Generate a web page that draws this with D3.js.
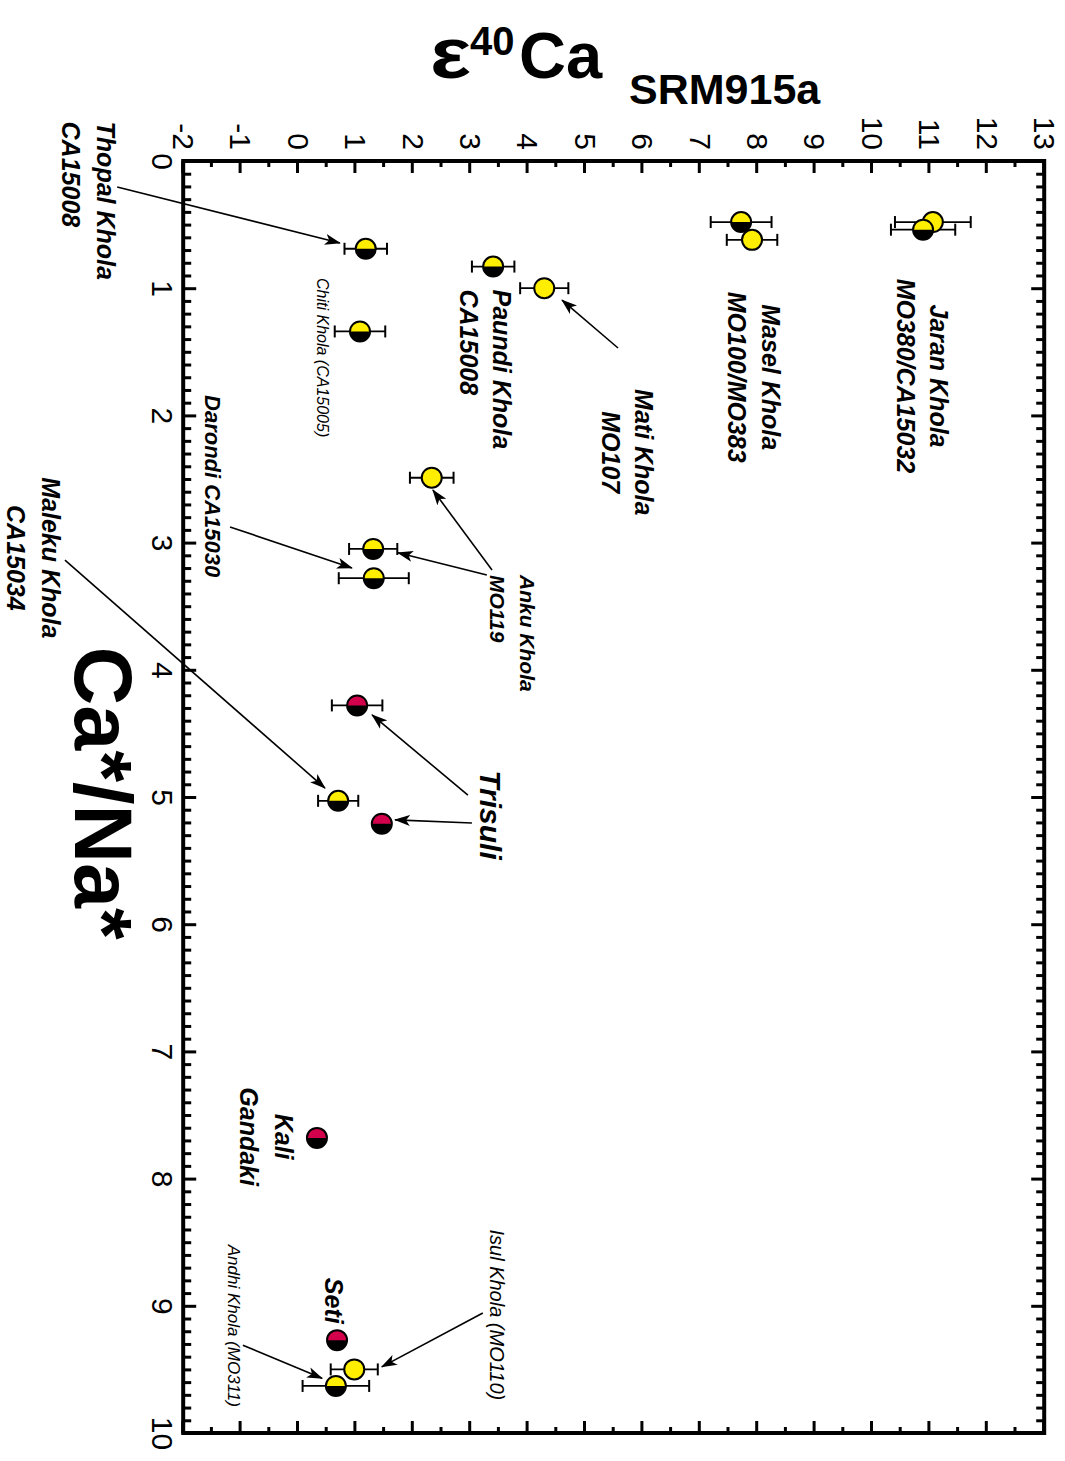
<!DOCTYPE html>
<html><head><meta charset="utf-8">
<script src="https://cdn.jsdelivr.net/npm/d3@7"></script>
<style>body{margin:0;background:#fff} svg{display:block}</style>
</head><body>
<svg id="chart" width="1065" height="1461"></svg>
<script>
// ---- data ----
const sampleNames = ["Jaran Khola CA15032","Jaran Khola MO380","Masel Khola MO100","Masel Khola MO383",
  "Thopal Khola CA15008","Paundi Khola CA15008","Mati Khola MO107","Chiti Khola CA15005",
  "Anku Khola MO119 a","Anku Khola MO119 b","Darondi CA15030","Trisuli a","Trisuli b",
  "Maleku Khola CA15034","Kali Gandaki","Seti","Isul Khola MO110","Andhi Khola MO311"];
const caNaRatio  = [0.48, 0.54, 0.48, 0.62, 0.69, 0.83, 1.00, 1.34, 2.49, 3.05, 3.28, 4.28, 5.21, 5.03, 7.68, 9.27, 9.50, 9.63];
const epsilonCa  = [11.06, 10.89, 7.72, 7.91, 1.18, 3.40, 4.29, 1.08, 2.33, 1.31, 1.32, 1.03, 1.46, 0.70, 0.33, 0.68, 0.98, 0.66];
const epsilonErr = [0.66, 0.56, 0.53, 0.44, 0.37, 0.37, 0.42, 0.44, 0.38, 0.42, 0.61, 0.44, null, 0.35, null, null, 0.41, 0.58];
const symbolType = ["full","half","half","full","half","half","full","half","full","half","half","red","red","half","red","red","full","half"];
const epsTicks = d3.range(-2, 14, 1);
const ratioTicks = d3.range(0, 11, 1);

// annotation texts (anchored in data units)
const labels = [
  {lines:["Jaran Khola","MO380/CA15032"], r:1.69, e:11.01, anchor:"middle", size:25, weight:"bold", lh:1.33},
  {lines:["Masel Khola","MO100/MO383"], r:1.70, e:8.08, anchor:"middle", size:25, weight:"bold", lh:1.36},
  {lines:["Thopal Khola","CA15008"], r:-0.31, e:-3.50, anchor:"start", size:25, weight:"bold", lh:1.40},
  {lines:["Paundi Khola","CA15008"], r:1.01, e:3.40, anchor:"start", size:25, weight:"bold", lh:1.32},
  {lines:["Mati Khola","MO107"], r:2.29, e:5.87, anchor:"middle", size:25, weight:"bold", lh:1.32},
  {lines:["Chiti Khola (CA15005)"], r:0.92, e:0.33, anchor:"start", size:16, weight:"normal", lh:1.2},
  {lines:["Anku Khola","MO119"], r:3.255, e:3.87, anchor:"start", size:21, weight:"bold", lh:1.43},
  {lines:["Darondi CA15030"], r:1.84, e:-1.62, anchor:"start", size:22, weight:"bold", lh:1.2},
  {lines:["Maleku Khola","CA15034"], r:3.12, e:-4.46, anchor:"middle", size:25, weight:"bold", lh:1.40},
  {lines:["Trisuli"], r:4.79, e:3.17, anchor:"start", size:30, weight:"bold", lh:1.2},
  {lines:["Kali","Gandaki"], r:7.67, e:-0.40, anchor:"middle", size:25, weight:"bold", lh:1.40},
  {lines:["Seti"], r:8.78, e:0.47, anchor:"start", size:25, weight:"bold", lh:1.2},
  {lines:["Isul Khola (MO110)"], r:8.40, e:3.345, anchor:"start", size:20, weight:"normal", lh:1.2},
  {lines:["Andhi Khola (MO311)"], r:8.52, e:-1.22, anchor:"start", size:17, weight:"normal", lh:1.2}
];
const arrows = [
  {r1:0.204, e1:-3.15, r2:0.645, e2:0.73},
  {r1:1.47, e1:5.575, r2:1.093, e2:4.60},
  {r1:3.215, e1:3.38, r2:2.587, e2:2.35},
  {r1:3.255, e1:3.29, r2:3.08, e2:1.74},
  {r1:2.877, e1:-1.185, r2:3.20, e2:0.94},
  {r1:3.137, e1:-4.06, r2:4.93, e2:0.47},
  {r1:4.985, e1:2.96, r2:4.355, e2:1.29},
  {r1:5.204, e1:3.03, r2:5.18, e2:1.69},
  {r1:9.057, e1:3.22, r2:9.48, e2:1.46},
  {r1:9.31, e1:-0.96, r2:9.57, e2:0.42}
];

// ---- chart ----
const W = 1065, H = 1461;
const FONT = "'Liberation Sans', Arial, sans-serif";
const YELLOW = "#ffee00", RED = "#d3004c";
const svg = d3.select("#chart");

const defs = svg.append("defs");
defs.append("marker").attr("id","arr").attr("viewBox","0 -6 16 12")
  .attr("refX",15).attr("refY",0).attr("markerWidth",16).attr("markerHeight",12)
  .attr("markerUnits","userSpaceOnUse").attr("orient","auto")
  .append("path").attr("d","M0,-5.5L16,0L0,5.5L4,0Z").attr("fill","#000");

// rotated plotting group: local x -> screen y, local y -> screen (W - x)
const g = svg.append("g").attr("transform", `translate(${W},0) rotate(90)`);

const x = d3.scaleLinear().domain([0, 10]).range([161, 1433]);
const y = d3.scaleLinear().domain([-2, 13]).range([881.8, 20.8]);

const minorRatio = d3.range(0, 100).map(i => i / 10).filter(v => Math.abs(v - Math.round(v)) > 1e-6);
const minorEps = d3.range(-2, 13, 1).map(v => v + 0.5);

function styleAxis(sel) {
  sel.select(".domain").remove();
  sel.selectAll(".tick line").attr("stroke", "#000").attr("stroke-width", 3);
  sel.selectAll(".tick text").attr("font-family", FONT).attr("font-size", 30).attr("fill", "#000");
}
const fmt = d => String(d);

// bottom (Ca*/Na*) axis with labels
g.append("g").attr("transform", `translate(0,${y.range()[0]})`)
  .call(d3.axisBottom(x).tickValues(ratioTicks).tickSizeInner(-13).tickSizeOuter(0).tickPadding(10).tickFormat(fmt))
  .call(styleAxis);
g.append("g").attr("transform", `translate(0,${y.range()[0]})`)
  .call(d3.axisBottom(x).tickValues(minorRatio).tickSizeInner(-8).tickSizeOuter(0).tickFormat(""))
  .call(styleAxis);
// top mirror
g.append("g").attr("transform", `translate(0,${y.range()[1]})`)
  .call(d3.axisTop(x).tickValues(ratioTicks).tickSizeInner(-13).tickSizeOuter(0).tickFormat(""))
  .call(styleAxis);
g.append("g").attr("transform", `translate(0,${y.range()[1]})`)
  .call(d3.axisTop(x).tickValues(minorRatio).tickSizeInner(-8).tickSizeOuter(0).tickFormat(""))
  .call(styleAxis);
// left (epsilon) axis with labels
g.append("g").attr("transform", `translate(${x.range()[0]},0)`)
  .call(d3.axisLeft(y).tickValues(epsTicks).tickSizeInner(-12).tickSizeOuter(0).tickPadding(11).tickFormat(fmt))
  .call(styleAxis);
g.append("g").attr("transform", `translate(${x.range()[0]},0)`)
  .call(d3.axisLeft(y).tickValues(minorEps).tickSizeInner(-6).tickSizeOuter(0).tickFormat(""))
  .call(styleAxis);
// right mirror
g.append("g").attr("transform", `translate(${x.range()[1]},0)`)
  .call(d3.axisRight(y).tickValues(epsTicks).tickSizeInner(-12).tickSizeOuter(0).tickFormat(""))
  .call(styleAxis);
g.append("g").attr("transform", `translate(${x.range()[1]},0)`)
  .call(d3.axisRight(y).tickValues(minorEps).tickSizeInner(-6).tickSizeOuter(0).tickFormat(""))
  .call(styleAxis);

// frame
g.append("rect").attr("x", x.range()[0]).attr("y", y.range()[1])
  .attr("width", x.range()[1] - x.range()[0]).attr("height", y.range()[0] - y.range()[1])
  .attr("fill", "none").attr("stroke", "#000").attr("stroke-width", 4);

// arrows
g.append("g").selectAll("line").data(arrows).join("line")
  .attr("x1", d => x(d.r1)).attr("y1", d => y(d.e1))
  .attr("x2", d => x(d.r2)).attr("y2", d => y(d.e2))
  .attr("stroke", "#000").attr("stroke-width", 1.6).attr("marker-end", "url(#arr)");

// data
const pts = sampleNames.map((n, i) => ({name: n, r: caNaRatio[i], e: epsilonCa[i], err: epsilonErr[i], type: symbolType[i]}));

const eb = g.append("g").attr("stroke", "#000").attr("stroke-width", 1.8);
pts.filter(d => d.err != null).forEach(d => {
  const cx = x(d.r);
  eb.append("line").attr("x1", cx).attr("x2", cx).attr("y1", y(d.e - d.err)).attr("y2", y(d.e + d.err));
  [d.e - d.err, d.e + d.err].forEach(v => {
    eb.append("line").attr("x1", cx - 6).attr("x2", cx + 6).attr("y1", y(v)).attr("y2", y(v)).attr("stroke-width", 2);
  });
});

const R = 10;
const pg = g.append("g");
pts.forEach(d => {
  const cx = x(d.r), cy = y(d.e);
  if (d.type === "full") {
    pg.append("circle").attr("cx", cx).attr("cy", cy).attr("r", R)
      .attr("fill", YELLOW).attr("stroke", "#000").attr("stroke-width", 2);
  } else {
    pg.append("circle").attr("cx", cx).attr("cy", cy).attr("r", R).attr("fill", "#000");
    pg.append("path").attr("d", `M${cx},${cy - R}A${R},${R} 0 0 0 ${cx},${cy + R}Z`)
      .attr("fill", d.type === "red" ? RED : YELLOW);
    pg.append("circle").attr("cx", cx).attr("cy", cy).attr("r", R)
      .attr("fill", "none").attr("stroke", "#000").attr("stroke-width", 2);
  }
});

// labels
labels.forEach(L => {
  const t = g.append("text").attr("x", x(L.r)).attr("y", y(L.e))
    .attr("font-family", FONT).attr("font-style", "italic").attr("font-weight", L.weight)
    .attr("font-size", L.size).attr("text-anchor", L.anchor).attr("fill", "#000");
  L.lines.forEach((s, i) => t.append("tspan").attr("x", x(L.r)).attr("dy", i === 0 ? 0 : L.lh + "em").text(s));
});

// Ca*/Na* axis title (rotated with the plot)
g.append("text").attr("x", x(4.97)).attr("y", 990)
  .attr("font-family", FONT).attr("font-weight", "bold").attr("font-size", 81)
  .attr("text-anchor", "middle").text("Ca*/Na*");

// epsilon axis title (upright on screen)
const tt = svg.append("g").attr("font-family", FONT).attr("font-weight", "bold").attr("fill", "#000");
tt.append("text").attr("transform", "translate(430,78) scale(1.2,1)").attr("font-size", 72).text("ε");
tt.append("text").attr("x", 470).attr("y", 55).attr("font-size", 40).text("40");
tt.append("text").attr("x", 519).attr("y", 78).attr("font-size", 65).text("Ca");
tt.append("text").attr("x", 629).attr("y", 104).attr("font-size", 43).text("SRM915a");
</script>
</body></html>
